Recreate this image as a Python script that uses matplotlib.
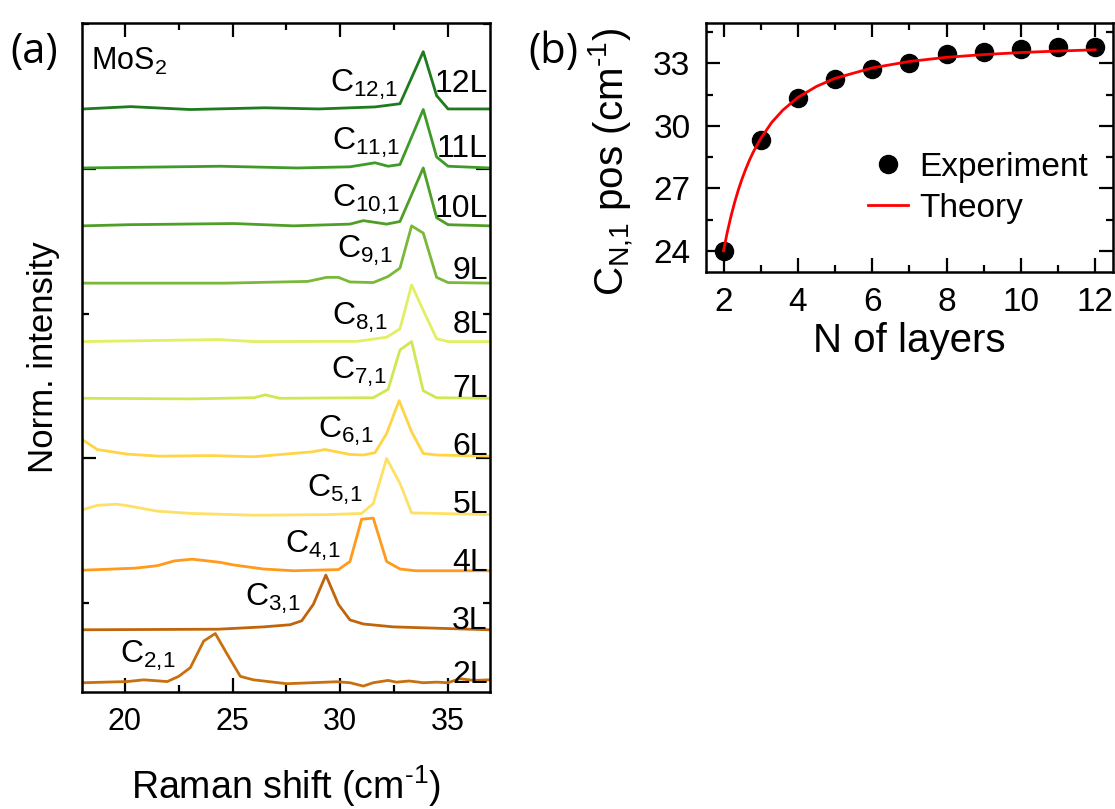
import matplotlib
matplotlib.use('Agg')
import matplotlib.pyplot as plt
from matplotlib.ticker import MultipleLocator

plt.rcParams['font.family'] = ['Liberation Sans', 'DejaVu Sans']
plt.rcParams['mathtext.fontset'] = 'custom'
plt.rcParams['mathtext.rm'] = 'Liberation Sans'
plt.rcParams['mathtext.it'] = 'Liberation Sans:italic'

# (a) spektri: Raman shift in normirana intenziteta (nad bazo)
layers = ['2L', '3L', '4L', '5L', '6L', '7L', '8L', '9L', '10L', '11L', '12L']
peak_names = ['2,1', '3,1', '4,1', '5,1', '6,1', '7,1', '8,1', '9,1', '10,1', '11,1', '12,1']
baseline = [1.125, 2.04, 3.06, 4.03, 5.04, 6.04, 7.02, 8.03, 9.02, 10.02, 11.04]

x_2L = [18.1, 20.11, 20.88, 21.97, 22.5, 23.04, 23.66, 24.2, 24.74, 25.36, 25.97, 27.52, 29.84, 30.45, 31.07, 31.53, 32.22, 32.6, 33.2, 33.85, 34.47, 35.0, 35.54, 36.2, 36.93]
y_2L = [0.0, 0.02, 0.05, 0.02, 0.11, 0.26, 0.72, 0.85, 0.5, 0.11, 0.05, -0.017, 0.017, 0.0, -0.058, 0.0, 0.04, 0.01, 0.03, 0.0, 0.01, 0.0, 0.07, 0.04, 0.05]

x_3L = [18.1, 24.35, 26.44, 27.67, 28.21, 28.75, 29.33, 29.91, 30.45, 31.07, 32.46, 34.2, 36.93]
y_3L = [0.0, 0.01, 0.05, 0.087, 0.155, 0.44, 0.945, 0.44, 0.17, 0.1, 0.05, 0.03, 0.0]

x_4L = [18.1, 20.5, 21.5, 22.3, 23.12, 24.43, 25.05, 26.44, 27.83, 29.91, 30.45, 30.99, 31.53, 32.15, 32.77, 33.5, 36.93]
y_4L = [0.01, 0.045, 0.087, 0.17, 0.2, 0.145, 0.1, 0.03, 0.0, 0.02, 0.16, 0.89, 0.91, 0.16, 0.03, 0.0, 0.0]

x_5L = [18.1, 18.72, 19.6, 20.11, 21.5, 23.1, 26.0, 29.37, 30.99, 31.53, 32.15, 32.77, 33.31, 36.93]
y_5L = [0.09, 0.16, 0.18, 0.155, 0.06, 0.02, -0.01, 0.0, 0.02, 0.19, 0.97, 0.54, 0.03, 0.0]

x_6L = [18.05, 18.72, 20.11, 21.6, 24.0, 26.0, 28.7, 29.29, 30.45, 31.07, 31.61, 32.15, 32.73, 33.31, 33.85, 34.47, 36.93]
y_6L = [0.28, 0.115, 0.035, 0.0, 0.01, -0.01, 0.075, 0.115, 0.03, 0.02, 0.06, 0.39, 0.96, 0.42, 0.046, 0.02, 0.0]

x_7L = [18.1, 23.1, 26.0, 26.52, 27.2, 31.53, 32.22, 32.77, 33.31, 33.85, 34.47, 36.93]
y_7L = [0.0, -0.01, 0.01, 0.06, 0.0, 0.01, 0.155, 0.835, 0.98, 0.13, 0.01, 0.0]

x_8L = [18.1, 24.35, 26.0, 30.8, 32.15, 32.77, 33.31, 33.85, 34.47, 35.0, 36.93]
y_8L = [0.0, 0.035, 0.0, 0.005, 0.075, 0.22, 0.98, 0.54, 0.05, 0.0, 0.0]

x_9L = [18.1, 24.7, 28.5, 29.37, 29.91, 30.45, 31.53, 32.22, 32.77, 33.31, 33.85, 34.47, 35.0, 36.93]
y_9L = [0.0, 0.0, 0.03, 0.1, 0.1, 0.02, 0.01, 0.115, 0.26, 0.99, 0.865, 0.1, 0.01, 0.0]

x_10L = [18.1, 20.2, 25.05, 27.83, 30.45, 31.07, 32.15, 32.77, 33.85, 34.47, 35.0, 36.93]
y_10L = [0.0, 0.02, 0.04, 0.0, 0.03, 0.09, 0.03, 0.075, 1.0, 0.14, 0.02, 0.0]

x_11L = [18.1, 24.43, 28.0, 30.45, 31.61, 32.22, 32.77, 33.85, 34.47, 35.0, 36.93]
y_11L = [0.0, 0.03, 0.0, 0.02, 0.09, 0.03, 0.06, 1.01, 0.19, 0.03, 0.0]

x_12L = [18.1, 20.27, 23.04, 26.5, 29.0, 31.61, 32.77, 33.85, 34.47, 35.0, 36.93]
y_12L = [0.0, 0.04, -0.01, 0.02, 0.0, 0.035, 0.09, 0.99, 0.23, 0.0, 0.0]

xs = [x_2L, x_3L, x_4L, x_5L, x_6L, x_7L, x_8L, x_9L, x_10L, x_11L, x_12L]
ys = [y_2L, y_3L, y_4L, y_5L, y_6L, y_7L, y_8L, y_9L, y_10L, y_11L, y_12L]

barve = ['#c8700f', '#c0650c', '#ff9a1a', '#ffe066', '#ffd445', '#d2e654', '#e2ef62', '#7ab83a', '#4f9e27', '#3f9a2a', '#1e7b1e']

# polozaji napisov (x, y v podatkovnih enotah)
peak_lbl_x = [22.35, 28.14, 29.99, 31.05, 31.52, 32.16, 32.21, 32.4, 32.77, 32.77, 32.67]
peak_lbl_y = [1.47, 2.46, 3.36, 4.33, 5.35, 6.38, 7.30, 8.46, 9.34, 10.33, 11.33]
layer_lbl_y = [1.125, 2.06, 3.06, 4.05, 5.06, 6.06, 7.16, 8.11, 9.17, 10.21, 11.33]

# (b) polozaj C_N,1
n_exp = [2, 3, 4, 5, 6, 7, 8, 9, 10, 11, 12]
pos_exp = [24.0, 29.31, 31.32, 32.25, 32.73, 33.03, 33.43, 33.54, 33.69, 33.77, 33.8]
n_theory = [2.0, 2.1, 2.2, 2.3, 2.4, 2.5, 2.6, 2.7, 2.8, 3.0, 3.3, 3.6, 4.0, 4.5, 5.0, 6.0, 7.0, 8.0, 9.0, 10.0, 11.0, 12.0]
pos_theory = [24.0, 24.88, 25.65, 26.33, 26.93, 27.46, 27.93, 28.36, 28.74, 29.39, 30.17, 30.76, 31.36, 31.89, 32.28, 32.78, 33.09, 33.29, 33.42, 33.52, 33.59, 33.65]

fig = plt.figure(figsize=(11.15, 8.09), dpi=100)
ax1 = fig.add_axes([0.0733, 0.145, 0.3662, 0.8262])
ax2 = fig.add_axes([0.6329, 0.6638, 0.3653, 0.3081])

for ax in (ax1, ax2):
	for s in ax.spines.values():
		s.set_linewidth(1.8)
	ax.tick_params(which='both', direction='in', top=True, right=True, width=1.6, pad=11)
	ax.tick_params(which='major', length=10)
	ax.tick_params(which='minor', length=5)
ax1.tick_params(labelsize=22)
ax2.tick_params(labelsize=24)

for i in range(len(layers)):
	ax1.plot(xs[i], [baseline[i] + v for v in ys[i]], '-', color=barve[i], lw=2.0)
	ax1.text(peak_lbl_x[i], peak_lbl_y[i], 'C$_{\\text{' + peak_names[i] + '}}$', ha='right', va='baseline', fontsize=23)
	ax1.text(36.85, layer_lbl_y[i], layers[i], ha='right', va='baseline', fontsize=23)

ax1.text(18.42, 11.71, 'MoS$_{\\text{2}}$', ha='left', va='baseline', fontsize=22)
ax1.set_xlim(18, 36.95)
ax1.set_ylim(0.97, 12.52)
ax1.xaxis.set_major_locator(MultipleLocator(5))
ax1.xaxis.set_minor_locator(MultipleLocator(2.5))
ax1.yaxis.set_major_locator(MultipleLocator(5))
ax1.yaxis.set_minor_locator(MultipleLocator(2.5))
ax1.set_yticklabels([])
ax1.set_xlabel('Raman shift (cm$^{\\text{-1}}$)', fontsize=27)
ax1.xaxis.set_label_coords(0.5, -0.108)
ax1.set_ylabel('Norm. intensity', fontsize=25)
ax1.yaxis.set_label_coords(-0.053, 0.5)

ax2.plot(n_exp, pos_exp, 'o', color='k', ms=13, label='Experiment')
ax2.plot(n_theory, pos_theory, '-', color='#ff0000', lw=2.0, label='Theory')
ax2.set_xlim(1.52, 12.48)
ax2.set_ylim(22.98, 34.95)
ax2.xaxis.set_major_locator(MultipleLocator(2))
ax2.xaxis.set_minor_locator(MultipleLocator(1))
ax2.yaxis.set_major_locator(MultipleLocator(3))
ax2.yaxis.set_minor_locator(MultipleLocator(1.5))
ax2.set_xlabel('N of layers', fontsize=29)
ax2.xaxis.set_label_coords(0.5, -0.2)
ax2.set_ylabel('C$_{\\text{N,1}}$ pos (cm$^{\\text{-1}}$)', fontsize=29)
ax2.yaxis.set_label_coords(-0.17, 0.44)
ax2.legend(loc='upper left', bbox_to_anchor=(868 / 1115, 1 - 152 / 809), bbox_transform=fig.transFigure,
	frameon=False, fontsize=24, handlelength=1.2, handletextpad=0.35, labelspacing=0.3,
	borderpad=0, borderaxespad=0, numpoints=1)

fig.text(10 / 1115, 1 - 52 / 809, '(a)', fontsize=30, family='Open Sans', ha='left', va='center')
fig.text(528 / 1115, 1 - 52 / 809, '(b)', fontsize=30, family='Open Sans', ha='left', va='center')

plt.savefig('out.png', dpi=100)
